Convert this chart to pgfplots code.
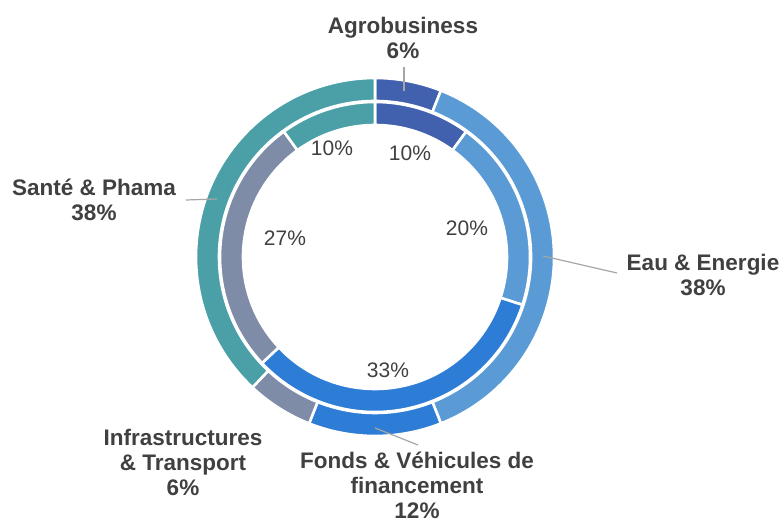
\documentclass[border=0pt]{standalone}
\usepackage{pgfplots}
\pgfplotsset{compat=1.18}
\usepackage{fontspec}
\setmainfont{Liberation Sans}
\definecolor{cAgro}{HTML}{4161AE}
\definecolor{cEau}{HTML}{5B9BD5}
\definecolor{cFonds}{HTML}{2D7DD6}
\definecolor{cInfra}{HTML}{7F8CA8}
\definecolor{cSante}{HTML}{4BA0A8}
\definecolor{txt}{HTML}{404040}
\definecolor{lead}{HTML}{A6A6A6}
% segment: #1 start cum %, #2 end cum %, #3 outer radius, #4 inner radius, #5 colour
\newcommand{\seg}[5]{%
  \fill[#5, draw=white, line width=2.6pt, line join=miter]
    ([shift={({90-3.6*#1}:#3pt)}]O) arc[start angle={90-3.6*#1}, end angle={90-3.6*#2}, radius=#3pt]
    -- ([shift={({90-3.6*#2}:#4pt)}]O) arc[start angle={90-3.6*#2}, end angle={90-3.6*#1}, radius=#4pt]
    -- cycle;}
\begin{document}
\begin{tikzpicture}
\begin{axis}[hide axis, x=1pt, y=1pt, xmin=0, xmax=784, ymin=0, ymax=529, clip=false]
\coordinate (O) at (axis cs:375,272);
% outer ring: Agro 6, Eau 38, Fonds 12, Infra 6, Sante 38
\seg{0}{6}{179}{156}{cAgro}
\seg{6}{44}{179}{156}{cEau}
\seg{44}{56}{179}{156}{cFonds}
\seg{56}{62}{179}{156}{cInfra}
\seg{62}{100}{179}{156}{cSante}
% inner ring: 10, 20, 33, 27, 10
\seg{0}{10}{155}{132}{cAgro}
\seg{10}{30}{155}{132}{cEau}
\seg{30}{63}{155}{132}{cFonds}
\seg{63}{90}{155}{132}{cInfra}
\seg{90}{100}{155}{132}{cSante}
% leader lines
\draw[lead, line width=1.2pt] (axis cs:404,462) -- (axis cs:404,438);
\draw[lead, line width=1.2pt] (axis cs:543,273) -- (axis cs:617,256);
\draw[lead, line width=1.2pt] (axis cs:375,101) -- (axis cs:418,84);
\draw[lead, line width=1.2pt] (axis cs:186,329) -- (axis cs:217,330);
% outer labels
\begin{scope}[every node/.style={text=txt, align=center, font=\fontsize{22.5}{25}\selectfont\bfseries}]
\node at (axis cs:403,491) {Agrobusiness\\6\%};
\node at (axis cs:703,254) {Eau \& Energie\\38\%};
\node at (axis cs:417,44) {Fonds \& Véhicules de\\financement\\12\%};
\node at (axis cs:183,67) {Infrastructures\\\& Transport\\6\%};
\node at (axis cs:94,329) {Santé \& Phama\\38\%};
\end{scope}
% inner labels
\begin{scope}[every node/.style={text=txt, font=\fontsize{21}{24}\selectfont}]
\node at (axis cs:410,376) {10\%};
\node at (axis cs:467,301) {20\%};
\node at (axis cs:388,159) {33\%};
\node at (axis cs:285,291) {27\%};
\node at (axis cs:332,381) {10\%};
\end{scope}
\end{axis}
\pgfresetboundingbox
\path (0,0) rectangle (784pt,529pt);
\end{tikzpicture}
\end{document}
